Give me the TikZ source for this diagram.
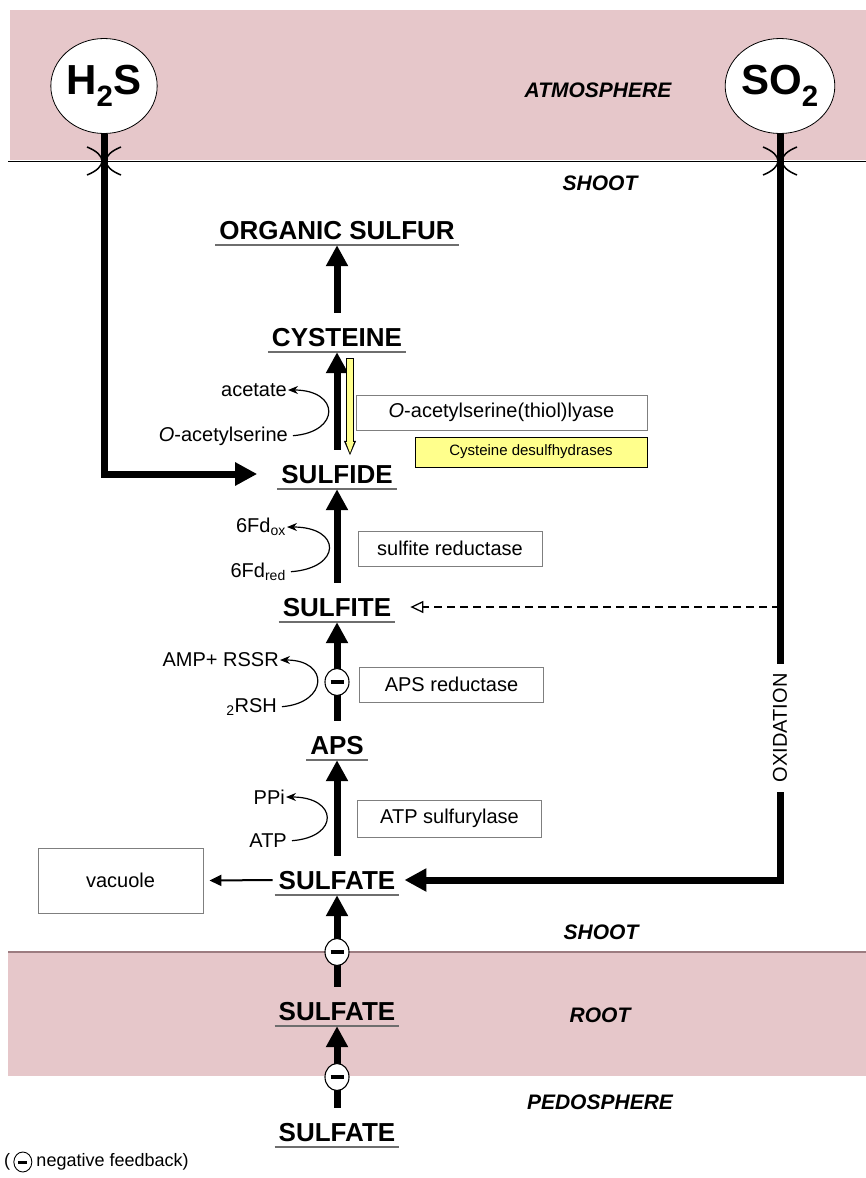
\documentclass[tikz,border=0pt]{standalone}
\usepackage{fontspec}
\setmainfont{Liberation Sans}
\usepackage{tikz}
\usetikzlibrary{positioning,arrows.meta,shapes.geometric}
\definecolor{cBand}{HTML}{E6C7CA}
\definecolor{cBandLine}{HTML}{9C7C80}
\definecolor{cGrey}{HTML}{7F7F7F}
\definecolor{cUnd}{HTML}{6E6E6E}
\definecolor{cYel}{HTML}{FFFF8C}
\newcommand\fMet{\fontsize{26}{30}\selectfont\bfseries}
\newcommand\fEnz{\fontsize{20}{24}\selectfont}
\newcommand\fCof{\fontsize{20}{24}\selectfont}
\newcommand\fReg{\fontsize{21}{25}\selectfont\bfseries\itshape}
\newcommand\fGas{\fontsize{42}{48}\selectfont\bfseries}
\newcommand\fSmall{\fontsize{15}{18}\selectfont}
\newcommand\fLeg{\fontsize{18}{22}\selectfont}
\tikzset{
  metab/.style={font=\fMet,inner xsep=0pt,inner ysep=6pt,text height=18pt,text depth=0pt},
  uline/.style={draw=cUnd,line width=1.6pt},
  enzbox/.style={rectangle,draw=cGrey,line width=0.9pt,font=\fEnz,minimum width=184pt,minimum height=35pt,inner sep=0pt},
  cof/.style={font=\fCof,anchor=east,inner sep=1pt},
  region/.style={font=\fReg},
  gas/.style={ellipse,draw=black,fill=white,line width=0.8pt,minimum width=105pt,minimum height=95pt,font=\fGas,inner sep=0pt},
  fb/.style={ellipse,draw,fill=white,line width=1.1pt,minimum width=24pt,minimum height=27pt,inner sep=0pt},
  flow/.style={line width=7pt,shorten <=9pt,-{Triangle[length=21pt,width=21pt]}},
  gasflow/.style={line width=7pt,-{Triangle[length=22pt,width=22pt]}},
  cofarr/.style={line width=1.2pt,shorten <=4pt,-{Stealth[length=10pt,width=8pt]}},
  dasharr/.style={line width=1.3pt,dash pattern=on 8pt off 5pt,-{Triangle[open,length=13pt,width=12pt]}},
  vacarr/.style={line width=2pt,-{Triangle[length=12pt,width=11pt]}},
  oxlab/.style={font=\fCof,rotate=90,fill=white,inner xsep=10pt,inner ysep=3pt},
  stoma/.style={line width=1.5pt},
}
\begin{document}
\begin{tikzpicture}[x=1pt,y=-1pt]
  \useasboundingbox (0,0) rectangle (866,1178);
  % atmosphere and root bands
  \fill[cBand] (10,10) rectangle (866,160);
  \draw[line width=1pt] (8,161) -- (866,161);
  \fill[cBand] (8,952) rectangle (866,1076);
  \draw[cBandLine,line width=2pt] (8,952) -- (866,952);
  \node[region] (atm) at (598,90) {ATMOSPHERE};
  \node[region] (shootT) at (600,183) {SHOOT};
  \node[region] (shootB) at (601,932) {SHOOT};
  \node[region] (root) at (600,1015) {ROOT};
  \node[region] (pedo) at (600,1102) {PEDOSPHERE};
  % gases
  \node[gas] (h2s) at (104,86) {H\textsubscript{2}S};
  \node[gas] (so2) at (780,86) {SO\textsubscript{2}};
  % pathway
  \node[metab] (org) at (337,230) {ORGANIC SULFUR};
  \node[metab] (cys) at (337,337) {CYSTEINE};
  \node[metab] (sulfide) at (337,474) {SULFIDE};
  \node[metab] (sulfite) at (337,607) {SULFITE};
  \node[metab] (aps) at (337,745) {APS};
  \node[metab] (sulfate) at (337,880) {SULFATE};
  \node[metab] (sulfR) at (337,1011) {SULFATE};
  \node[metab] (sulfP) at (337,1132) {SULFATE};
  \foreach \n in {org,cys,sulfide,sulfite,aps,sulfate,sulfR,sulfP}
    \draw[uline] ([xshift=-4pt]\n.south west) -- ([xshift=4pt]\n.south east);
  \foreach \a/\b in {cys/org,sulfide/cys,sulfite/sulfide,aps/sulfite,sulfate/aps,sulfR/sulfate,sulfP/sulfR}
    \draw[flow] (\a.north) -- (\b.south);
  % desulfhydrase arrow
  \draw[line width=8pt,shorten <=6pt,shorten >=3pt,-{Triangle[length=15pt,width=11pt]}] ([xshift=13pt]cys.south) -- ([xshift=13pt]sulfide.north);
  \draw[cYel,line width=5.6pt,shorten <=7.2pt,shorten >=4.8pt,-{Triangle[length=12pt,width=7pt]}] ([xshift=13pt]cys.south) -- ([xshift=13pt]sulfide.north);
  % enzymes
  \node[enzbox,minimum width=291pt] (oasl) at (501.5,412.5) {\textit{O}-acetylserine(thiol)lyase};
  \node[enzbox,draw=black,fill=cYel,minimum width=232pt,minimum height=30pt,font=\fSmall] (cdes) at (531,452) {Cysteine desulfhydrases};
  \node[enzbox] (sired) at (450,548.5) {sulfite reductase};
  \node[enzbox] (apsred) at (451.5,684.5) {APS reductase};
  \node[enzbox,minimum height=37pt] (atpsul) at (449.5,818.5) {ATP sulfurylase};
  \node[enzbox,minimum width=165pt,minimum height=65pt] (vac) at (120.5,880.5) {vacuole};
  % cofactors
  \node[cof] (ace) at (288,390) {acetate};
  \node[cof] (oas) at (289,436) {\textit{O}-acetylserine};
  \node[cof] (fdox) at (287,527) {6Fd\textsubscript{ox}};
  \node[cof] (fdred) at (287,572) {6Fd\textsubscript{red}};
  \node[cof] (amp) at (280,660) {AMP+ RSSR};
  \node[cof] (rsh) at (278,707) {\textsubscript{2}RSH};
  \node[cof] (ppi) at (286,797) {PPi};
  \node[cof] (atp) at (288,841) {ATP};
  \foreach \s/\t/\b in {oas/ace/52,fdred/fdox/55,rsh/amp/50,atp/ppi/52}
    \draw[cofarr] (\s.east) .. controls +(\b,-4) and +(\b,0) .. (\t.east);
  % uptake from air
  \coordinate (oxs) at (so2.south |- sulfite.east);
  \draw[dasharr] (oxs) -- ([xshift=19pt]sulfite.east);
  \draw[gasflow,shorten >=24pt] (h2s.south) |- (sulfide.west);
  \draw[gasflow] (so2.south) -- node[oxlab,pos=0.796] {OXIDATION} (so2.south |- sulfate.east) -- ([xshift=9pt]sulfate.east);
  \foreach \g in {h2s,so2}{
    \path (\g.south |- 0,161) coordinate (j);
    \draw[stoma] ([shift={(-17,-14)}]j) .. controls ([shift={(3,-6)}]j) and ([shift={(3,6)}]j) .. ([shift={(-17,14)}]j);
    \draw[stoma] ([shift={(17,-14)}]j) .. controls ([shift={(-3,-6)}]j) and ([shift={(-3,6)}]j) .. ([shift={(17,14)}]j);
  }
  \draw[vacarr] ([xshift=-6pt]sulfate.west) -- ([xshift=6pt]vac.east);
  % negative feedback
  \node[fb] (fbA) at (337,682) {\rule{13pt}{4pt}};
  \node[fb] (fbB) at (337,952) {\rule{13pt}{4pt}};
  \node[fb] (fbC) at (337,1077) {\rule{13pt}{4pt}};
  \node[font=\fLeg,anchor=west,inner sep=0pt] (legL) at (4,1162) {(};
  \node[fb,minimum width=18pt,minimum height=20pt,line width=0.9pt,right=3pt of legL] (legfb) {\rule{9pt}{3pt}};
  \node[font=\fLeg,inner sep=0pt,right=4pt of legfb] (legT) {negative feedback)};
\end{tikzpicture}
\end{document}
